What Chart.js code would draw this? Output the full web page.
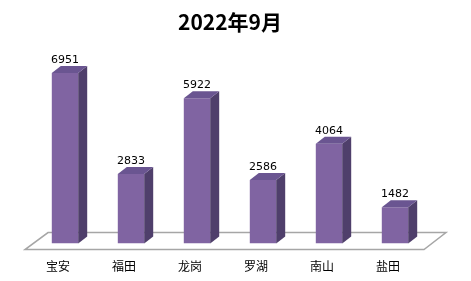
<!DOCTYPE html>
<html>
<head>
<meta charset="utf-8">
<script src="https://cdn.jsdelivr.net/npm/chart.js@4"></script>
<style>
  body { margin: 0; background: #fff; }
  #wrap { width: 471px; height: 281px; }
</style>
</head>
<body>
<div id="wrap"><canvas id="myChart"></canvas></div>
<script>
// data
const districts = ['宝安', '福田', '龙岗', '罗湖', '南山', '盐田'];
const counts = [6951, 2833, 5922, 2586, 4064, 1482];
const titleText = '2022年9月';

const ctx = document.getElementById('myChart').getContext('2d');

// depth of the fake 3d
const DX = 9;
const DY = 7;

// floor under the bars, drawn before the bars
const floorPlugin = {
  id: 'floor',
  beforeDatasetsDraw(chart) {
    const c = chart.ctx;
    const a = chart.chartArea;
    const backY = a.bottom - 11;
    const frontY = a.bottom + 6;
    c.save();
    c.beginPath();
    c.moveTo(a.left + 16, backY);
    c.lineTo(a.right + 18, backY);
    c.lineTo(a.right - 4, frontY);
    c.lineTo(a.left - 7, frontY);
    c.closePath();
    c.fillStyle = '#ffffff';
    c.fill();
    c.strokeStyle = '#a6a6a6';
    c.lineWidth = 1.5;
    c.stroke();
    c.restore();
  }
};

// side + top faces and the value labels
const boxPlugin = {
  id: 'box3d',
  afterDatasetsDraw(chart) {
    const c = chart.ctx;
    const meta = chart.getDatasetMeta(0);
    c.save();
    meta.data.forEach(function (bar, i) {
      const half = bar.width / 2;
      const l = bar.x - half;
      const r = bar.x + half;
      const top = bar.y;
      const base = bar.base;
      // side
      c.beginPath();
      c.moveTo(r, top);
      c.lineTo(r + DX, top - DY);
      c.lineTo(r + DX, base - DY);
      c.lineTo(r, base);
      c.closePath();
      c.fillStyle = '#4f3f6b';
      c.fill();
      // top
      c.beginPath();
      c.moveTo(l, top);
      c.lineTo(l + DX, top - DY);
      c.lineTo(r + DX, top - DY);
      c.lineTo(r, top);
      c.closePath();
      c.fillStyle = '#6a5591';
      c.fill();
      // value
      c.fillStyle = '#000';
      c.font = '11px "DejaVu Sans", sans-serif';
      c.textAlign = 'center';
      c.textBaseline = 'alphabetic';
      c.fillText(counts[i], bar.x, top - DY - 3);
    });
    c.restore();
  }
};

var myChart = new Chart(ctx, {
  type: 'bar',
  data: {
    labels: districts,
    datasets: [{
      data: counts,
      backgroundColor: '#8064a2',
      borderWidth: 0,
      barPercentage: 0.4,
      categoryPercentage: 1,
    }],
  },
  options: {
    responsive: true,
    maintainAspectRatio: false,
    animation: false,
    layout: { padding: { left: 32, right: 43, top: 0, bottom: -9 } },
    plugins: {
      legend: { display: false },
      tooltip: { enabled: false },
      title: {
        display: true,
        text: titleText,
        color: '#000',
        font: { family: '"Noto Sans CJK SC", sans-serif', size: 21, weight: 'bold' },
        padding: { top: 9, bottom: 13 },
      },
    },
    scales: {
      x: {
        grid: { display: false, drawTicks: false },
        border: { display: false },
        ticks: {
          color: '#000',
          font: { family: '"Noto Sans CJK SC", sans-serif', size: 12 },
          labelOffset: -7,
          padding: 16,
          maxRotation: 0,
        },
      },
      y: {
        display: false,
        min: 0,
        max: 8000,
      },
    },
  },
  plugins: [floorPlugin, boxPlugin],
});
</script>
</body>
</html>
